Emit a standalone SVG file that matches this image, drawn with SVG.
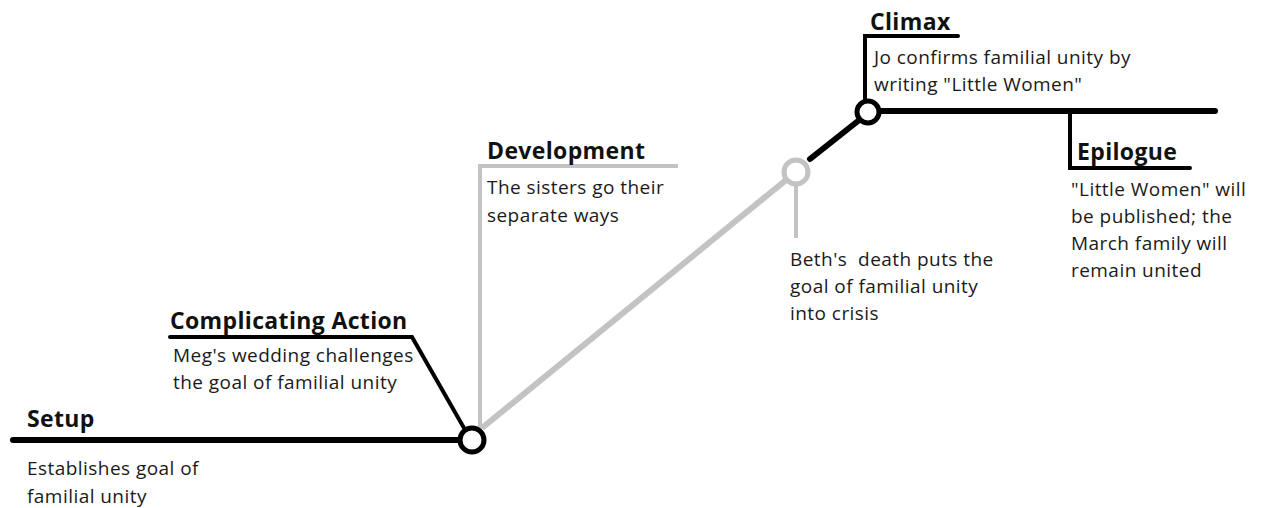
<svg xmlns="http://www.w3.org/2000/svg" width="1265" height="508" viewBox="0 0 1265 508">
<style>
.t{font-family:"Open Sans","Noto Sans",sans-serif;font-weight:bold;font-size:23px;letter-spacing:0.35px;fill:#111}
.d{font-family:"Open Sans","Noto Sans",sans-serif;font-size:19px;letter-spacing:0.45px;fill:#1a1a1a;white-space:pre}
.k{stroke:#000;fill:none;stroke-linecap:round;stroke-linejoin:miter}
.g{stroke:#c3c3c3;fill:none}
</style>
<rect width="1265" height="508" fill="#fff"/>
<g id="connectors">
<line class="k" x1="13" y1="440" x2="460" y2="440" stroke-width="6"/>
<polyline class="k" points="170,337 412,337 464,428" stroke-width="4" stroke-linecap="butt"/>
<polyline class="g" points="480,430 480,166 678,166" stroke-width="4"/>
<line class="g" x1="482" y1="428" x2="786" y2="180" stroke-width="6"/>
<line class="g" x1="796" y1="185" x2="796" y2="238" stroke-width="4"/>
<line class="k" x1="810" y1="159" x2="858" y2="121" stroke-width="6" stroke-linecap="butt"/>
<line class="k" x1="881" y1="111" x2="1215" y2="111" stroke-width="6"/>
<polyline class="k" points="865,100 865,36 958,36" stroke-width="4" stroke-linecap="butt"/>
<polyline class="k" points="1070,111 1070,168 1190,168" stroke-width="4" stroke-linecap="butt"/>
</g>
<g id="setup">
<text class="t" x="27" y="427">Setup</text>
<text class="d" x="27" y="475">Establishes goal of</text>
<text class="d" x="27" y="503">familial unity</text>
</g>
<g id="node-setup-end"><circle cx="472" cy="440" r="12" fill="#fff" stroke="#000" stroke-width="5"/></g>
<g id="complicating">
<text class="t" x="170" y="329">Complicating Action</text>
<text class="d" x="173" y="362">Meg's wedding challenges</text>
<text class="d" x="173" y="389">the goal of familial unity</text>
</g>
<g id="development">
<text class="t" x="487" y="159">Development</text>
<text class="d" x="487" y="194">The sisters go their</text>
<text class="d" x="487" y="222">separate ways</text>
</g>
<g id="crisis">
<circle cx="796" cy="172" r="12" fill="#fff" stroke="#c3c3c3" stroke-width="5"/>
<text class="d" x="790" y="266" xml:space="preserve">Beth's  death puts the</text>
<text class="d" x="790" y="293">goal of familial unity</text>
<text class="d" x="790" y="320">into crisis</text>
</g>
<g id="climax">
<circle cx="868" cy="112" r="11" fill="#fff" stroke="#000" stroke-width="5"/>
<text class="t" x="870" y="30">Climax</text>
<text class="d" x="874" y="64">Jo confirms familial unity by</text>
<text class="d" x="874" y="91">writing "Little Women"</text>
</g>
<g id="epilogue">
<text class="t" x="1077" y="160">Epilogue</text>
<text class="d" x="1071" y="196">"Little Women" will</text>
<text class="d" x="1071" y="223">be published; the</text>
<text class="d" x="1071" y="250">March family will</text>
<text class="d" x="1071" y="277">remain united</text>
</g>
</svg>
